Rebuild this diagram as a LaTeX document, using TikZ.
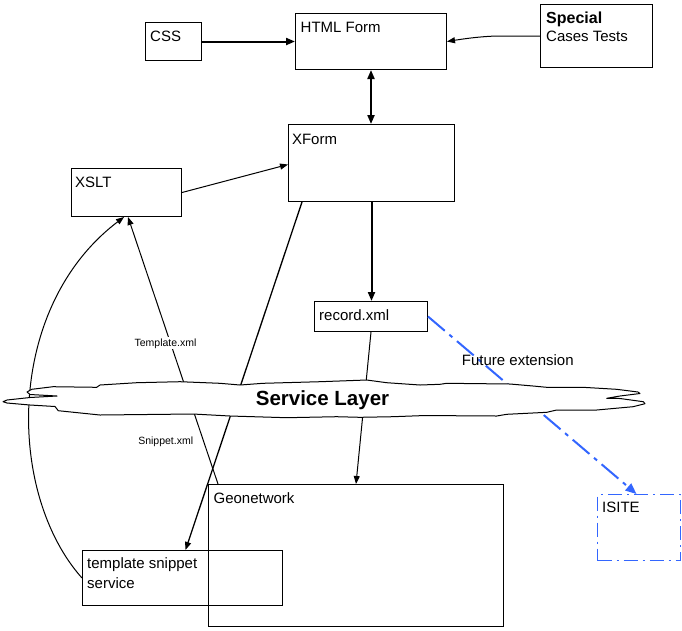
\documentclass[tikz,border=0pt]{standalone}
\usepackage{fontspec}
\setmainfont{Liberation Sans}
\usetikzlibrary{arrows.meta}
\definecolor{futblue}{HTML}{3366FF}
\begin{document}
\begin{tikzpicture}[x=1pt,y=-1pt,
  box/.style={draw=black, line width=1pt, inner sep=0pt, anchor=north west},
  txt/.style={anchor=base west, inner sep=0pt, font=\fontsize{15}{18}\selectfont},
  small/.style={inner sep=1pt, font=\fontsize{10.5}{12}\selectfont},
  lnk/.style={line width=1pt, -{Triangle[length=8pt,width=6pt]}},
  boldlnk/.style={line width=2pt, -{Triangle[length=9pt,width=7pt]}},
  bluelnk/.style={draw=futblue, line width=2pt, dash pattern=on 22pt off 6pt on 4pt off 6pt, -{Triangle[length=11pt,width=9pt]}},
  bluebox/.style={draw=futblue, line width=1pt, dash pattern=on 14pt off 5pt on 2pt off 5pt, inner sep=0pt, anchor=north west}
]
\useasboundingbox (0,0) rectangle (682,630);

% boxes
\node[box, minimum width=56pt, minimum height=38pt] (css) at (145,22) {};
\node[box, minimum width=151pt, minimum height=56pt] (html) at (295,13) {};
\node[box, minimum width=112pt, minimum height=63pt] (special) at (540,4) {};
\node[box, minimum width=166pt, minimum height=77pt] (xform) at (288,124) {};
\node[box, minimum width=110pt, minimum height=48pt] (xslt) at (71,168) {};
\node[box, minimum width=113pt, minimum height=30pt] (record) at (314,301) {};
\node[box, minimum width=295pt, minimum height=142pt] (geo) at (208,484) {};
\node[box, minimum width=200pt, minimum height=55pt] (tss) at (82,550) {};
\node[bluebox, minimum width=83pt, minimum height=66pt] (isite) at (597,494) {};

% connectors
\draw[boldlnk] (css.east) -- (html.west);
\draw[lnk] (special.west) -- ++(-40,0) .. controls +(-12,0) and +(25,-4) .. (html.east);
\draw[line width=2pt, {Triangle[length=9pt,width=7pt]}-{Triangle[length=9pt,width=7pt]}] (html.south) -- (html.south |- xform.north);
\draw[boldlnk] (xform.south) -- (xform.south |- record.north);
\draw[lnk] (xslt.east) -- ([yshift=-1.5pt]xform.west);
\draw[lnk, line width=1.3pt] ([xshift=14pt]xform.south west) -- ([xshift=3pt]tss.north);
\draw[lnk] (record.south) -- (geo.north);
\draw[lnk] ([xshift=10pt]geo.north west) -- ([xshift=1.5pt]xslt.south);
\draw[lnk] (tss.west) .. controls (7,494) and (4,308) .. ([xshift=-2.5pt]xslt.south);
\draw[bluelnk] (record.east) -- ([xshift=-2.5pt]isite.north);

% service layer cloud
\draw[line width=1pt, fill=white, line join=round]
  (31.7,389.3) -- (53,386.7) -- (96.7,387.3) -- (100,385) -- (136.7,382.7) -- (180,381.7)
  -- (220,383.3) -- (240,385) -- (263,383.3) -- (320,381.7) -- (366.7,380) -- (386.7,382.7)
  -- (420,385) -- (440,384.3) -- (446.7,383.3) -- (510,384) -- (533,386) -- (546.7,387.3)
  -- (583,387.3) -- (616.7,389.3) -- (638,392) -- (640,393.5) -- (620,396) -- (606.7,398.3)
  -- (620,398.5) -- (643.3,401.7) -- (645,403.7) -- (633,406.7) -- (596.7,410) -- (556.7,410)
  -- (546.7,412.3) -- (526.7,413.3) -- (506.7,414.3) -- (496.7,416) -- (450,415.7) -- (420,415.7)
  -- (393,416.7) -- (360,417.3) -- (336.7,416.7) -- (286.7,417.7) -- (230,416) -- (193,414)
  -- (100,415) -- (58.3,410.7) -- (55,406.5) -- (30,405) -- (7,403) -- (3,401.7) -- (7,400)
  -- (30,397.5) -- (57,396) -- (30,394.5) -- (27,392) -- cycle;
\node[anchor=base, inner sep=0pt, font={\fontsize{20.5}{24}\selectfont\bfseries}] (sl) at (322.5,405.7) {Service Layer};

% texts
\node[txt] (tcss) at (150,41.7) {CSS};
\node[txt] (thtml) at (300.5,32.3) {HTML Form};
\node[txt, font={\fontsize{16}{19}\selectfont\bfseries}] (tspecial) at (546,23.3) {Special};
\node[txt] (tcases) at (546,41.7) {Cases Tests};
\node[txt] (txform) at (291.8,144) {XForm};
\node[txt] (txslt) at (75,187.3) {XSLT};
\node[txt] (trecord) at (319,320) {record.xml};
\node[txt] (tgeo) at (213.4,503.3) {Geonetwork};
\node[txt] (ttss1) at (87,568) {template snippet};
\node[txt] (ttss2) at (87,588) {service};
\node[txt] (tisite) at (602,512.7) {ISITE};
\node[txt] (lfuture) at (461.7,365.7) {Future extension};
\node[small, fill=white, anchor=base] (ltemplate) at (165.5,346) {Template.xml};
\node[small, anchor=base] (lsnippet) at (165.7,444) {Snippet.xml};
\end{tikzpicture}
\end{document}
